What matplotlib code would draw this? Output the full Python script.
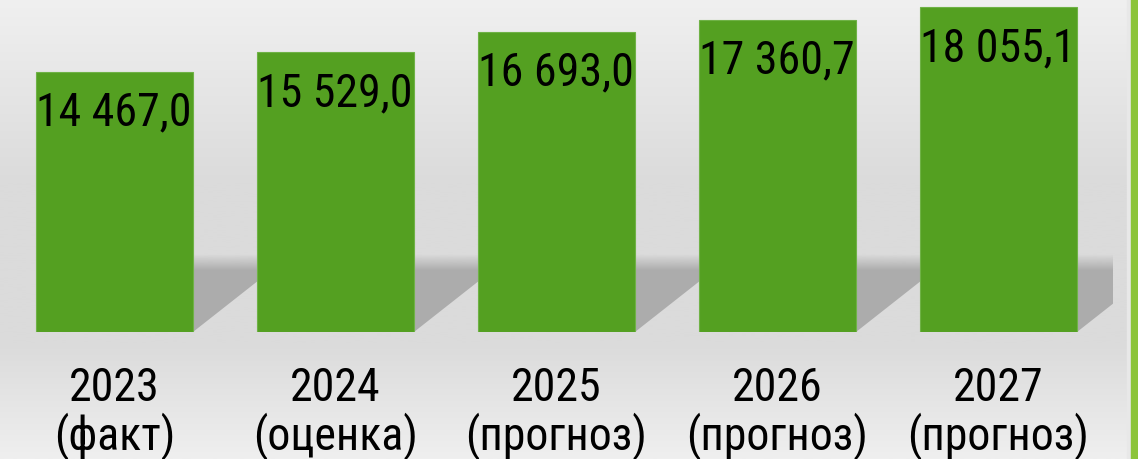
import numpy as np
import matplotlib
matplotlib.use("Agg")
import matplotlib.pyplot as plt
from matplotlib.path import Path
from matplotlib.patches import Rectangle
from matplotlib.colors import LinearSegmentedColormap

plt.rcParams['font.family'] = ['Roboto Condensed', 'DejaVu Sans']

# данные
years = ["2023", "2024", "2025", "2026", "2027"]
kinds = ["(факт)", "(оценка)", "(прогноз)", "(прогноз)", "(прогноз)"]
values = [14467.0, 15529.0, 16693.0, 17360.7, 18055.1]

labels = [y + "\n" + k for y, k in zip(years, kinds)]
x = np.arange(len(values))
bar_w = 0.71
green = "#54a021"

fig = plt.figure(figsize=(11.38, 4.6), dpi=100)

# фон с градиентом
bg = fig.add_axes([0, 0, 1, 1], zorder=0)
grad = LinearSegmentedColormap.from_list(
    "bg", [(0, "#f0f0f0"), (0.4, "#dbdbdb"), (0.75, "#dbdbdb"), (1, "#efefef")])
bg.imshow(np.linspace(0, 1, 256).reshape(-1, 1), aspect="auto", cmap=grad,
          extent=(0, 1, 0, 1))
bg.set_axis_off()

# зелёная полоса справа
fig.patches.append(Rectangle((1127 / 1138, 0), 4 / 1138, 1, transform=fig.transFigure,
                             color="#e8e8e8", zorder=1))
fig.patches.append(Rectangle((1131 / 1138, 0), 7 / 1138, 1, transform=fig.transFigure,
                             color="#8cc43a", zorder=1))

ax = fig.add_axes([0, 127 / 460, 1, 333 / 460], zorder=2)
ax.patch.set_alpha(0)
ax.set_xlim(-0.518, 4.631)
ax.set_ylim(0, 18500)

# тень за столбцами
sh_top = 4300
slope = 0.276 / 2666
verts, codes = [], []
for xi in x:
    l, r = xi - bar_w / 2, xi + bar_w / 2
    s = sh_top * slope
    verts += [(l, 0), (r, 0), (r + s, sh_top), (l + s, sh_top), (l, 0)]
    codes += [Path.MOVETO, Path.LINETO, Path.LINETO, Path.LINETO, Path.CLOSEPOLY]
clip = Path(verts, codes)
alpha = np.clip((sh_top - np.linspace(sh_top, 0, 200)) / 900, 0, 1)
rgba = np.zeros((200, 1, 4))
rgba[..., :3] = 0.675
rgba[:, 0, 3] = alpha
im = ax.imshow(rgba, aspect="auto", extent=(-0.518, 4.514, 0, sh_top),
               interpolation="bilinear", zorder=1)
im.set_clip_path(clip, transform=ax.transData)

ax.bar(x, values, width=bar_w, color=green, edgecolor="#6fb246", linewidth=0.8, zorder=2)

for xi, v in zip(x, values):
    txt = f"{v:,.1f}".replace(",", " ").replace(".", ",")
    ax.annotate(txt, (xi - bar_w / 2, v), xytext=(0, -18), textcoords="offset pixels",
                ha="left", va="top", fontsize=33, color="black", zorder=3)

ax.set_xticks(x, labels, fontsize=33, linespacing=1.05)
ax.tick_params(axis="x", length=0, pad=24)
ax.set_yticks([])
for sp in ax.spines.values():
    sp.set_visible(False)

fig.savefig("out.png", dpi=100)
